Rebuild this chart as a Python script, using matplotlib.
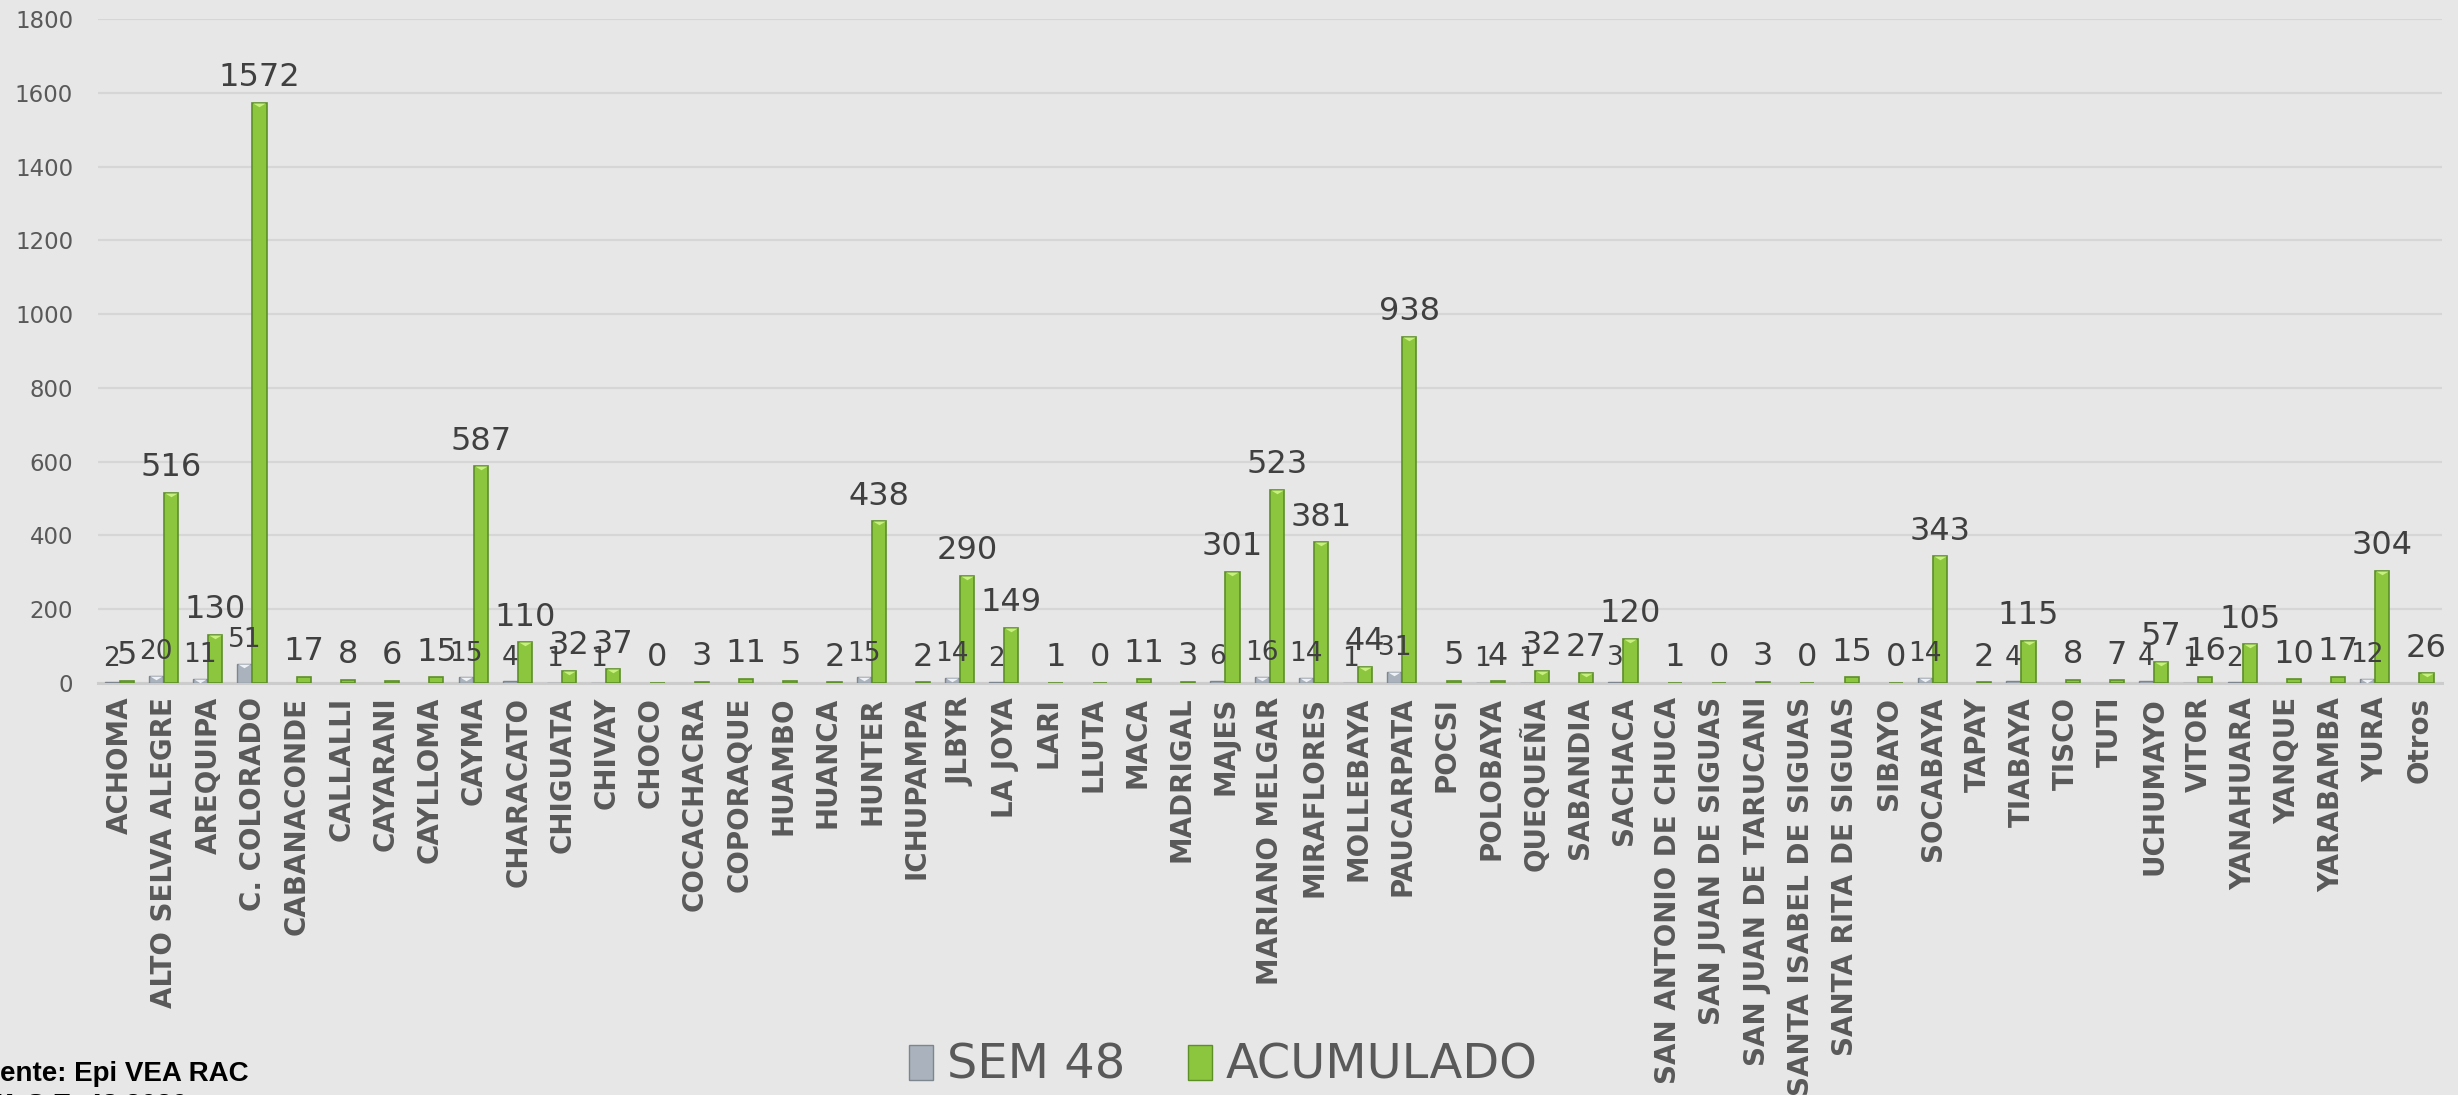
import numpy as np
import matplotlib
matplotlib.use("Agg")
import matplotlib.pyplot as plt
from matplotlib.patches import Patch
from matplotlib.path import Path

categories = ["ACHOMA", "ALTO SELVA ALEGRE", "AREQUIPA", "C. COLORADO", "CABANACONDE",
              "CALLALLI", "CAYARANI", "CAYLLOMA", "CAYMA", "CHARACATO", "CHIGUATA",
              "CHIVAY", "CHOCO", "COCACHACRA", "COPORAQUE", "HUAMBO", "HUANCA", "HUNTER",
              "ICHUPAMPA", "JLBYR", "LA JOYA", "LARI", "LLUTA", "MACA", "MADRIGAL",
              "MAJES", "MARIANO MELGAR", "MIRAFLORES", "MOLLEBAYA", "PAUCARPATA",
              "POCSI", "POLOBAYA", "QUEQUEÑA", "SABANDIA", "SACHACA",
              "SAN ANTONIO DE CHUCA", "SAN JUAN DE SIGUAS", "SAN JUAN DE TARUCANI",
              "SANTA ISABEL DE SIGUAS", "SANTA RITA DE SIGUAS", "SIBAYO", "SOCABAYA",
              "TAPAY", "TIABAYA", "TISCO", "TUTI", "UCHUMAYO", "VITOR", "YANAHUARA",
              "YANQUE", "YARABAMBA", "YURA", "Otros"]

sem48 = [2, 20, 11, 51, None, None, None, None, 15, 4, 1,
         1, None, None, None, None, None, 15,
         None, 14, 2, None, None, None, None,
         6, 16, 14, 1, 31,
         None, 1, 1, None, 3,
         None, None, None,
         None, None, None, 14,
         None, 4, None, None, 4, 1, 2,
         None, None, 12, None]

acumulado = [5, 516, 130, 1572, 17, 8, 6, 15, 587, 110, 32,
             37, 0, 3, 11, 5, 2, 438,
             2, 290, 149, 1, 0, 11, 3,
             301, 523, 381, 44, 938,
             5, 4, 32, 27, 120,
             1, 0, 3,
             0, 15, 0, 343,
             2, 115, 8, 7, 57, 16, 105,
             10, 17, 304, 26]

series_names = ["SEM 48", "ACUMULADO"]
yticks = [0, 200, 400, 600, 800, 1000, 1200, 1400, 1600, 1800]

BG = "#e7e7e7"
GRID = "#d6d6d6"
TXT = "#595959"
LBL = "#404040"
GREEN = "#8cc63f"
GREEN_E = "#5d8f27"
GREEN_HI = "#c8f07e"
GREY = "#aab3bd"
GREY_E = "#7d858f"
GREY_HI = "#eef2f6"

fig = plt.figure(figsize=(24.58, 10.95), dpi=100, facecolor=BG)
ax = fig.add_axes([0.0399, 0.3763, 0.9536, 0.6063])
ax.set_facecolor(BG)

n = len(categories)
x = np.arange(n)
w = 0.32
x_sem = x - 0.19
x_acu = x + 0.15

sem_vals = np.array([np.nan if v is None else v for v in sem48], dtype=float)
acu_vals = np.array(acumulado, dtype=float)

ax.set_ylim(0, 1800)
ax.set_xlim(-0.5, n - 0.5)
ax.set_yticks(yticks)
ax.yaxis.grid(True, color=GRID, linewidth=1.6, zorder=0)
ax.set_axisbelow(True)
for s in ["top", "right", "left"]:
    ax.spines[s].set_visible(False)
ax.spines["bottom"].set_color("#cccccc")
ax.spines["bottom"].set_linewidth(2.2)

mask = ~np.isnan(sem_vals)
ax.bar(x_sem[mask], sem_vals[mask], width=w, color=GREY, edgecolor=GREY_E,
       linewidth=1.0, zorder=3)
ax.bar(x_acu, acu_vals, width=w, color=GREEN, edgecolor=GREEN_E,
       linewidth=1.2, zorder=3)

# bevel highlight triangles at bar tops
tri = Path([(-1, 0), (1, 0), (0, -0.6), (-1, 0)],
           [Path.MOVETO, Path.LINETO, Path.LINETO, Path.CLOSEPOLY])
big_a = acu_vals >= 20
ax.plot(x_acu[big_a], acu_vals[big_a], linestyle="none", marker=tri, ms=9,
        color=GREEN_HI, mec="none", zorder=4)
big_s = mask & (np.nan_to_num(sem_vals) >= 10)
ax.plot(x_sem[big_s], sem_vals[big_s], linestyle="none", marker=tri, ms=9,
        color=GREY_HI, mec="none", zorder=4)

for xi, v in zip(x_acu, acu_vals):
    ax.annotate(f"{int(v)}", (xi, v), xytext=(0, 12), textcoords="offset points",
                ha="center", va="baseline", fontsize=23, color=LBL, zorder=5)
for xi, v in zip(x_sem[mask], sem_vals[mask]):
    ax.annotate(f"{int(v)}", (xi, v), xytext=(0, 12), textcoords="offset points",
                ha="center", va="baseline", fontsize=19, color=LBL, zorder=5)

ax.set_xticks(x)
ax.set_xticklabels(categories, rotation=90, fontsize=20, fontweight="bold",
                   color=TXT, ha="center", va="top")
ax.tick_params(axis="x", length=0, pad=10)
ax.tick_params(axis="y", length=0, pad=18, labelsize=16.5, labelcolor=TXT)

handles = [Patch(facecolor=GREY, edgecolor=GREY_E, linewidth=1.0),
           Patch(facecolor=GREEN, edgecolor=GREEN_E, linewidth=1.0)]
fig.legend(handles, series_names, loc="center", bbox_to_anchor=(0.4977, 0.027),
           ncol=2, frameon=False, fontsize=34.5, labelcolor=TXT,
           handlelength=0.5, handleheight=0.75, columnspacing=1.3,
           handletextpad=0.3, borderpad=0.1)

fig.text(-0.0139, 0.0128, "Fuente: Epi VEA RAC", fontsize=20, fontweight="bold",
         family="Liberation Sans", color="black", va="baseline", ha="left")
fig.text(-0.030, -0.0164, "HASTA S.E. 48 2020", fontsize=20, fontweight="bold",
         family="Liberation Sans", color="black", va="baseline", ha="left")

fig.savefig("out.png", dpi=100, facecolor=BG)
